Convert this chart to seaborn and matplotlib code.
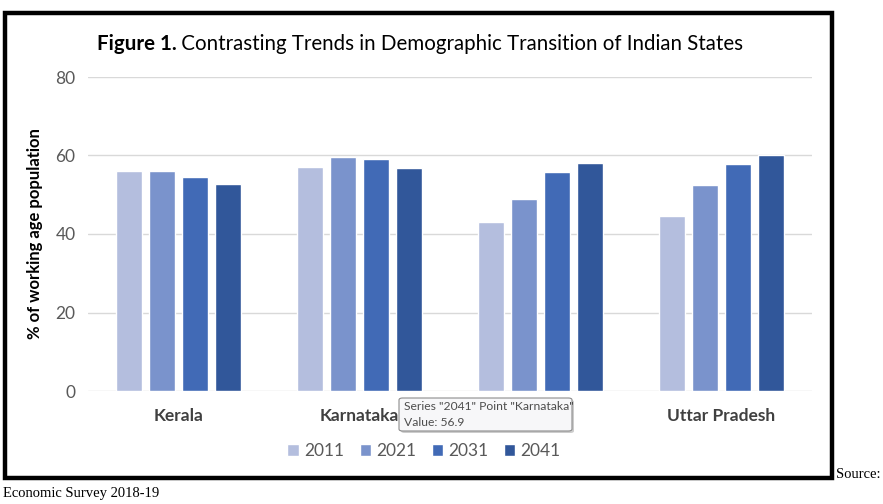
import matplotlib
matplotlib.use("Agg")
import matplotlib.pyplot as plt
import seaborn as sns
import pandas as pd
from matplotlib.patches import Rectangle, FancyBboxPatch

states = ["Kerala", "Karnataka", "Bihar", "Uttar Pradesh"]
years = ["2011", "2021", "2031", "2041"]
v2011 = [56.1, 57.1, 43.1, 44.6]
v2021 = [56.1, 59.7, 49.0, 52.5]
v2031 = [54.6, 59.1, 55.8, 57.9]
v2041 = [52.8, 56.9, 58.1, 60.2]
colors = ["#B4BEDE", "#7A93CC", "#416AB6", "#31579A"]

rows = []
for yr, vals in zip(years, [v2011, v2021, v2031, v2041]):
    for s, v in zip(states, vals):
        rows.append({"State": s, "Year": yr, "Value": v})
df = pd.DataFrame(rows)

sns.set_theme(style="white")
plt.rcParams['font.family'] = ['Lato', 'DejaVu Sans']

W, H = 883, 504
fig = plt.figure(figsize=(W / 100, H / 100), dpi=100)
ax = fig.add_axes([88 / W, 1 - 391 / H, (812 - 88) / W, (391 - 77) / H])

sns.barplot(data=df, x="State", y="Value", hue="Year", order=states,
            hue_order=years, palette=colors, width=0.73, gap=0.21,
            saturation=1, ax=ax, legend=True, zorder=3)

ax.set_ylim(0, 80)
ax.set_yticks([0, 20, 40, 60, 80])
ax.set_xlim(-0.5, 3.5)
for y in [0, 20, 40, 60, 80]:
    ax.axhline(y, color="#D9D9D9", lw=1.0, zorder=1)
for sp in ax.spines.values():
    sp.set_visible(False)
ax.tick_params(axis="y", length=0, pad=9, labelsize=12.5, labelcolor="#595959")
ax.tick_params(axis="x", length=0, pad=12, labelsize=12.5, labelcolor="#404040")
for t in ax.get_xticklabels():
    t.set_fontweight("bold")
    if t.get_text() == "Bihar":
        t.set_visible(False)  # hidden beneath the tooltip in the reference
ax.set_xlabel("")
ax.set_ylabel("% of working age population", fontsize=12, fontweight="bold",
              color="#000000")
ax.yaxis.set_label_coords(-45 / (812 - 88), 0.5)

handles, labels = ax.get_legend_handles_labels()
ax.legend(handles, labels, loc="center", bbox_to_anchor=(424 / W, 1 - 451 / H),
          bbox_transform=fig.transFigure, ncol=4, frameon=False,
          fontsize=12.5, handlelength=0.65, handleheight=0.65,
          handletextpad=0.3, columnspacing=0.9, labelcolor="#595959")

# Title with bold prefix
fig.canvas.draw()
r = fig.canvas.get_renderer()
t1 = fig.text(0, 1 - 44 / H, "Figure 1.", fontsize=14.8, fontweight="bold",
              va="center", ha="left", color="#000000")
t2 = fig.text(0, 1 - 44 / H, " Contrasting Trends in Demographic Transition of Indian States",
              fontsize=14.8, va="center", ha="left", color="#000000")
w1 = t1.get_window_extent(r).width
w2 = t2.get_window_extent(r).width
x0 = 420 - (w1 + w2) / 2
t1.set_x(x0 / W)
t2.set_x((x0 + w1) / W)

# Frame
fig.patches.append(Rectangle((5 / W, 1 - 478 / H), (832 - 5) / W, (478 - 13) / H,
                             transform=fig.transFigure, fill=False,
                             edgecolor="black", lw=3.2, zorder=10))

# Tooltip overlay
fig.patches.append(FancyBboxPatch((401 / W, 1 - 433 / H), 173 / W, 33 / H,
                                  boxstyle="round,pad=0,rounding_size=0.004",
                                  transform=fig.transFigure, facecolor="#9A9A9A",
                                  edgecolor="none", alpha=0.5, zorder=11))
fig.patches.append(FancyBboxPatch((399 / W, 1 - 431 / H), 173 / W, 33 / H,
                                  boxstyle="round,pad=0,rounding_size=0.004",
                                  transform=fig.transFigure, facecolor="#F7F7F9",
                                  edgecolor="#8C8C8C", lw=0.8, zorder=12))
fig.text(404 / W, 1 - 407 / H, 'Series "2041" Point "Karnataka"', fontsize=8.7,
         color="#4D4D4D", va="center", ha="left", zorder=13)
fig.text(404 / W, 1 - 422 / H, "Value: 56.9", fontsize=8.7,
         color="#4D4D4D", va="center", ha="left", zorder=13)

# Source
fig.text(836 / W, 1 - 475 / H, "Source:", fontsize=10.5, family="Liberation Serif",
         color="black", va="center", ha="left")
fig.text(3 / W, 1 - 493 / H, "Economic Survey 2018-19", fontsize=10.5,
         family="Liberation Serif", color="black", va="center", ha="left")

fig.savefig("out.png", dpi=100)
